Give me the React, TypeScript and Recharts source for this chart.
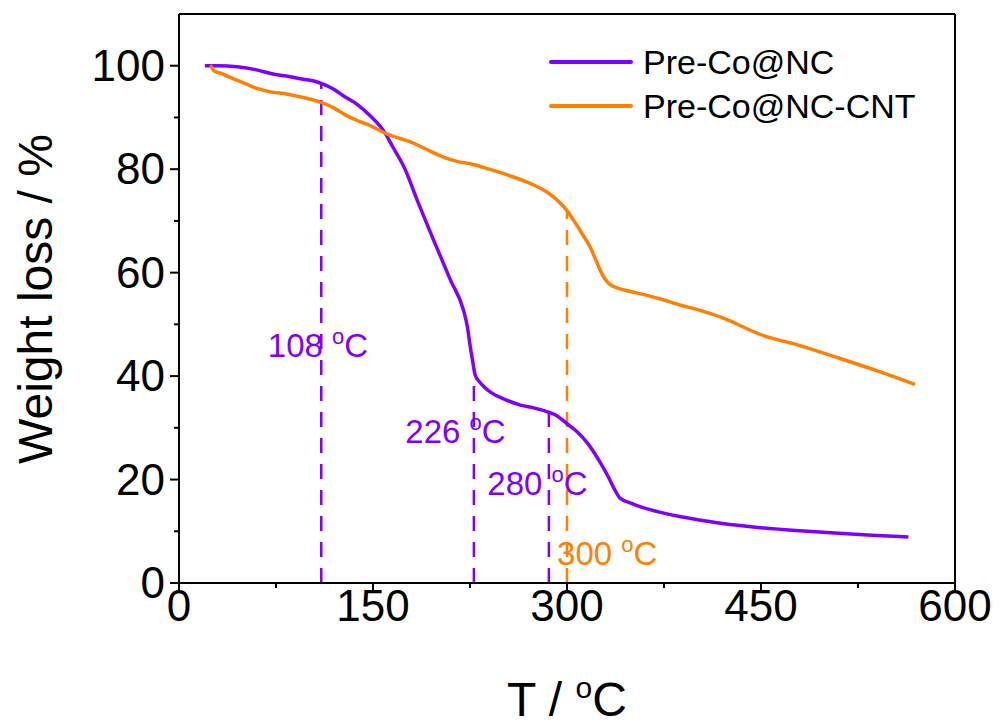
import { LineChart, Line, XAxis, YAxis, ReferenceLine, ReferenceDot } from "recharts";

const purple = "#7f00ff";
const orange = "#ff8000";
const font = "'Liberation Sans', Arial, sans-serif";

// Pre-Co@NC
const tempNC = [20, 30, 45, 60, 71, 85, 96, 105, 111, 120, 127, 138, 148, 158, 166, 174, 185, 197, 210, 220, 223, 225, 227, 229, 232, 236, 242, 250, 264, 275, 285, 293, 300, 308, 316, 324, 332, 337, 341, 350, 357, 370, 388, 410, 430, 450, 480, 510, 540, 564];
const lossNC = [100, 100, 99.8, 99.2, 98.5, 97.9, 97.4, 97.0, 96.5, 95.4, 94.2, 92.5, 90.3, 87.5, 84, 80.4, 73.5, 66.2, 58.5, 52.7, 49.5, 46, 43, 40.2, 39, 37.9, 36.7, 35.7, 34.4, 33.8, 33.1, 32.2, 30.8, 29.2, 27, 24, 20.5, 18, 16.4, 15.4, 14.7, 13.8, 12.8, 11.9, 11.2, 10.7, 10.1, 9.6, 9.2, 8.9];

// Pre-Co@NC-CNT
const tempCNT = [24, 25, 27, 33, 40, 50, 58, 70, 84, 97, 110, 120, 130, 140, 148, 160, 170, 179, 190, 205, 215, 226, 240, 255, 272, 285, 293, 300, 306, 312, 318, 323, 328, 332, 336, 345, 362, 375, 388, 403, 420, 450, 480, 510, 540, 569];
const lossCNT = [100, 99.8, 99, 98.5, 97.7, 96.7, 95.8, 95, 94.5, 93.8, 92.9, 91.8, 90.3, 89.2, 88.4, 86.9, 86, 85.3, 84, 82.3, 81.5, 81, 80, 78.8, 77.2, 75.5, 73.9, 72, 69.8, 67.4, 64.9, 62, 59.3, 58, 57.3, 56.6, 55.6, 54.7, 53.7, 52.7, 51.3, 48, 45.9, 43.5, 41, 38.4];

const xTicks = [0, 75, 150, 225, 300, 375, 450, 525, 600];
const yTicks = [0, 10, 20, 30, 40, 50, 60, 70, 80, 90, 100];

// dashed markers
const markT = [110, 228, 286, 300];
const markW = [96.7, 40, 33, 72];
const markText = ["108", "226", "280", "300"];
const markLabelT = [68.7, 175, 238.4, 292.3];
const markLabelW = [43.6, 27, 17, 3.5];
const markColor = [purple, purple, purple, orange];

const seriesNames = ["Pre-Co@NC", "Pre-Co@NC-CNT"];
const seriesColors = [purple, orange];

const dataNC = tempNC.map((t, i) => ({ t, w: lossNC[i] }));
const dataCNT = tempCNT.map((t, i) => ({ t, w: lossCNT[i] }));

function XTick(props: any) {
  const { x, y, payload } = props;
  const major = payload.value % 150 === 0;
  return (
    <g>
      <line x1={x} x2={x} y1={y} y2={y + (major ? 9 : 5)} stroke="#000" strokeWidth={2} />
      {major && (
        <text x={x} y={y + 38} textAnchor="middle" fontSize={44} fontFamily={font} fill="#000">
          {payload.value}
        </text>
      )}
    </g>
  );
}

function YTick(props: any) {
  const { x, y, payload } = props;
  const major = payload.value % 20 === 0;
  return (
    <g>
      <line x1={x} x2={x - (major ? 9 : 5)} y1={y} y2={y} stroke="#000" strokeWidth={2} />
      {major && (
        <text x={x - 14} y={y + 15} textAnchor="end" fontSize={44} fontFamily={font} fill="#000">
          {payload.value}
        </text>
      )}
    </g>
  );
}

function DegLabel({ cx, cy, text, color }: any) {
  return (
    <text x={cx} y={cy} fontSize={33} fontFamily={font} fill={color}>
      {text + " "}
      <tspan dy={-13} fontSize={22}>o</tspan>
      <tspan dy={13}>C</tspan>
    </text>
  );
}

export default function App() {
  return (
    <div style={{ position: "absolute", left: 0, top: 0, width: 1000, height: 728, background: "#fff" }}>
      <LineChart width={1000} height={728} margin={{ top: 14, right: 45, left: 0, bottom: 0 }}>
        <XAxis
          dataKey="t"
          type="number"
          domain={[0, 600]}
          ticks={xTicks}
          interval={0}
          tickSize={0}
          tickMargin={0}
          tickLine={false}
          tick={<XTick />}
          height={145}
          axisLine={{ stroke: "#000", strokeWidth: 2 }}
          allowDataOverflow
        />
        <YAxis
          type="number"
          domain={[0, 110]}
          ticks={yTicks}
          interval={0}
          tickSize={0}
          tickMargin={0}
          tickLine={false}
          tick={<YTick />}
          width={179}
          axisLine={{ stroke: "#000", strokeWidth: 2 }}
          allowDataOverflow
        />
        <ReferenceLine y={110} stroke="#000" strokeWidth={2} />
        <ReferenceLine x={600} stroke="#000" strokeWidth={2} />
        {markT.map((t, i) => (
          <ReferenceLine
            key={"m" + i}
            segment={[{ x: t, y: 0 }, { x: t, y: markW[i] }]}
            stroke={markColor[i]}
            strokeWidth={2.5}
            strokeDasharray="15 11"
          />
        ))}
        <Line data={dataNC} dataKey="w" type="monotone" stroke={purple} strokeWidth={3.5} dot={false} isAnimationActive={false} />
        <Line data={dataCNT} dataKey="w" type="monotone" stroke={orange} strokeWidth={3.5} dot={false} isAnimationActive={false} />
        {markText.map((s, i) => (
          <ReferenceDot
            key={"l" + i}
            x={markLabelT[i]}
            y={markLabelW[i]}
            r={0}
            shape={(p: any) => <DegLabel cx={p.cx} cy={p.cy} text={s} color={markColor[i]} />}
          />
        ))}
      </LineChart>

      {/* axis titles */}
      <svg width={1000} height={728} style={{ position: "absolute", left: 0, top: 0, pointerEvents: "none" }}>
        <text
          x={0}
          y={0}
          transform="translate(52,299) rotate(-90)"
          textAnchor="middle"
          fontSize={48}
          fontFamily={font}
          fill="#000"
        >
          Weight loss / %
        </text>
        <text x={567} y={716} textAnchor="middle" fontSize={48} fontFamily={font} fill="#000">
          {"T / "}
          <tspan dy={-18} fontSize={30}>o</tspan>
          <tspan dy={18}>C</tspan>
        </text>
      </svg>

      {/* legend */}
      <div style={{ position: "absolute", left: 549, top: 40, fontFamily: font, fontSize: 34, lineHeight: "44px" }}>
        {seriesNames.map((n, i) => (
          <div key={n} style={{ display: "flex", alignItems: "center", height: 44 }}>
            <svg width={84} height={6} style={{ marginRight: 10 }}>
              <line x1={2} x2={82} y1={3} y2={3} stroke={seriesColors[i]} strokeWidth={4} strokeLinecap="round" />
            </svg>
            <span>{n}</span>
          </div>
        ))}
      </div>
    </div>
  );
}
